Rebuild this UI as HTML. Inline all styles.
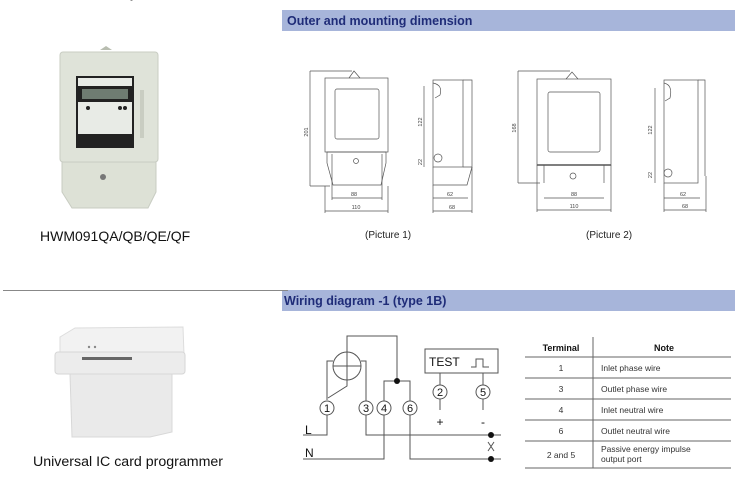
<!DOCTYPE html>
<html><head><meta charset="utf-8"><style>
html,body{margin:0;padding:0;background:#fff;width:737px;height:487px;overflow:hidden}
text{font-family:"Liberation Sans",sans-serif}
</style></head><body>
<svg width="737" height="487" viewBox="0 0 737 487" xmlns="http://www.w3.org/2000/svg">
<rect x="282" y="10" width="453" height="21" fill="#a7b5da"/>
<text x="287" y="25" font-size="12.5" font-weight="bold" fill="#1f2c78">Outer and mounting dimension</text>
<rect x="282" y="290" width="453" height="21" fill="#a7b5da"/>
<text x="284" y="305" font-size="12.5" font-weight="bold" fill="#1f2c78">Wiring diagram -1 (type 1B)</text>
<line x1="3" y1="290.5" x2="288" y2="290.5" stroke="#888" stroke-width="1"/>
<text x="70" y="-2" font-size="13" fill="#222">HWM091QA</text>

<g>
<path d="M100 50 L106 46 L112 50 Z" fill="#b8bdb0"/>
<rect x="60" y="52" width="98" height="110" rx="3" fill="#dfe3d9" stroke="#c8ccc2"/>
<rect x="76" y="76" width="58" height="72" fill="#222"/>
<rect x="78" y="78" width="54" height="8" fill="#e8ebe6"/>
<rect x="82" y="89" width="46" height="10" fill="#6f7c72"/>
<rect x="78" y="102" width="54" height="32" fill="#e8ebe6"/>
<circle cx="88" cy="108" r="2" fill="#222"/><circle cx="120" cy="108" r="2" fill="#222"/><circle cx="125" cy="108" r="2" fill="#222"/>
<path d="M62 162 L156 162 L156 192 L148 208 L72 208 L62 192 Z" fill="#dde1d6" stroke="#c8ccc2"/>
<circle cx="103" cy="177" r="3" fill="#777"/>
<rect x="140" y="90" width="4" height="48" fill="#c9cdc2"/>
</g>
<text x="40" y="241" font-size="14" fill="#111">HWM091QA/QB/QE/QF</text>

<g>
<path d="M60 337 L75 328 L183 327 L184 355 L172 360 L60 360 Z" fill="#f2f2f2" stroke="#ddd"/>
<rect x="55" y="352" width="130" height="22" rx="3" fill="#ececec" stroke="#d6d6d6"/>
<rect x="82" y="357" width="50" height="3" fill="#666"/>
<circle cx="89" cy="347" r="1.2" fill="#888"/><circle cx="95" cy="347" r="1.2" fill="#888"/>
<path d="M70 374 L172 374 L172 432 L150 437 L72 437 Z" fill="#eaeaea" stroke="#d8d8d8"/>
</g>
<text x="33" y="466" font-size="14.2" fill="#111">Universal IC card programmer</text>

<g fill="none" stroke="#555" stroke-width="0.7">
<path d="M349 78 L354 71 L360 78"/>
<rect x="325" y="78" width="63" height="74"/>
<rect x="335" y="89" width="44" height="50" rx="2"/>
<path d="M327 152 L327 163 L333 185 L381 185 L386 163 L386 152 Z"/>
<circle cx="356" cy="161" r="2.5"/>
<line x1="310" y1="71" x2="352" y2="71"/><line x1="310" y1="186" x2="330" y2="186"/>
<line x1="310" y1="71" x2="310" y2="186"/>
<line x1="332" y1="198" x2="382" y2="198"/><line x1="325" y1="211" x2="388" y2="211"/>
<line x1="332" y1="154" x2="332" y2="200"/><line x1="382" y1="154" x2="382" y2="200"/>
<line x1="325" y1="186" x2="325" y2="213"/><line x1="388" y1="186" x2="388" y2="213"/>
<rect x="433" y="80" width="30" height="87"/>
<path d="M463 80 L472 80 L472 167 L463 167"/>
<path d="M433 167 L433 185 L467 185 L472 167"/>
<path d="M433 83 Q443 85 440 95 L435 98"/>
<circle cx="438" cy="158" r="4"/>
<line x1="424" y1="86" x2="424" y2="167"/>
<line x1="433" y1="198" x2="468" y2="198"/><line x1="433" y1="211" x2="472" y2="211"/>
<line x1="433" y1="185" x2="433" y2="213"/><line x1="472" y1="167" x2="472" y2="213"/>
<path d="M566 79 L572 72 L578 79"/>
<rect x="537" y="79" width="74" height="86"/>
<rect x="548" y="92" width="52" height="60" rx="2"/>
<line x1="537" y1="165" x2="611" y2="165" stroke-width="1.5"/>
<line x1="544" y1="165" x2="544" y2="183"/><line x1="604" y1="165" x2="604" y2="183"/>
<circle cx="573" cy="176" r="3"/>
<line x1="518" y1="71" x2="570" y2="71"/><line x1="518" y1="183" x2="540" y2="183"/>
<line x1="518" y1="71" x2="518" y2="183"/>
<line x1="544" y1="198" x2="604" y2="198"/><line x1="537" y1="210" x2="611" y2="210"/>
<line x1="537" y1="165" x2="537" y2="212"/><line x1="611" y1="165" x2="611" y2="212"/>
<rect x="664" y="80" width="34" height="103"/>
<path d="M698 80 L705 80 L705 176"/>
<path d="M664 83 Q673 85 670 98 L665 101"/>
<circle cx="668" cy="173" r="4"/>
<line x1="655" y1="88" x2="655" y2="183"/>
<line x1="664" y1="198" x2="700" y2="198"/><line x1="664" y1="210" x2="706" y2="210"/>
<line x1="664" y1="183" x2="664" y2="212"/><line x1="706" y1="176" x2="706" y2="212"/>
</g>
<g font-size="5.5" fill="#444">
<text x="354" y="196" text-anchor="middle">88</text><text x="356" y="209" text-anchor="middle">110</text>
<text x="450" y="196" text-anchor="middle">62</text><text x="452" y="209" text-anchor="middle">68</text>
<text x="574" y="196" text-anchor="middle">88</text><text x="574" y="208" text-anchor="middle">110</text>
<text x="683" y="196" text-anchor="middle">62</text><text x="685" y="208" text-anchor="middle">68</text>
<text transform="translate(308,132) rotate(-90)" text-anchor="middle">201</text>
<text transform="translate(422,122) rotate(-90)" text-anchor="middle">122</text>
<text transform="translate(422,162) rotate(-90)" text-anchor="middle">22</text>
<text transform="translate(516,128) rotate(-90)" text-anchor="middle">168</text>
<text transform="translate(652,130) rotate(-90)" text-anchor="middle">122</text>
<text transform="translate(652,175) rotate(-90)" text-anchor="middle">22</text>
</g>
<text x="365" y="238" font-size="10" fill="#222">(Picture 1)</text>
<text x="586" y="238" font-size="10" fill="#222">(Picture 2)</text>

<g fill="none" stroke="#555" stroke-width="1">
<circle cx="347" cy="366" r="14"/>
<line x1="333" y1="366" x2="361" y2="366"/><line x1="347" y1="352" x2="347" y2="380"/>
<path d="M347 352 L347 336 L397 336 L397 381"/>
<path d="M333 361 L327 361 L327 400"/>
<path d="M347 380 L347 386 L328 398"/>
<path d="M361 361 L366 361 L366 402"/>
<path d="M384 402 L384 381 L410 381 L410 402"/>
<path d="M327 415 L327 435 L303 435"/>
<path d="M366 415 L366 435 L501 435"/>
<path d="M384 415 L384 459 L303 459"/>
<path d="M410 415 L410 459 L501 459"/>
<rect x="425" y="349" width="73" height="24"/>
<path d="M440 373 L440 386 M440 398 L440 410 M483 373 L483 386 M483 398 L483 410"/>
<path d="M471 367 L476 367 L476 359 L483 359 L483 367 L489 367"/>
<path d="M488 442 L494 451 M494 442 L488 451"/>
</g>
<g fill="#fff" stroke="#555" stroke-width="1">
<circle cx="327" cy="408" r="7"/><circle cx="366" cy="408" r="7"/><circle cx="384" cy="408" r="7"/><circle cx="410" cy="408" r="7"/>
<circle cx="440" cy="392" r="7"/><circle cx="483" cy="392" r="7"/>
</g>
<g fill="#111"><circle cx="397" cy="381" r="3"/><circle cx="491" cy="435" r="3"/><circle cx="491" cy="459" r="3"/></g>
<g font-size="11" fill="#111" text-anchor="middle">
<text x="327" y="412">1</text><text x="366" y="412">3</text><text x="384" y="412">4</text><text x="410" y="412">6</text>
<text x="440" y="396">2</text><text x="483" y="396">5</text>
</g>
<text x="429" y="366" font-size="12" fill="#111">TEST</text>
<text x="440" y="426" font-size="12" fill="#111" text-anchor="middle">+</text>
<text x="483" y="426" font-size="12" fill="#111" text-anchor="middle">-</text>
<text x="305" y="434" font-size="12" fill="#111">L</text>
<text x="305" y="457" font-size="12" fill="#111">N</text>

<g stroke="#666" stroke-width="1">
<line x1="593" y1="337" x2="593" y2="468"/>
<line x1="525" y1="357" x2="731" y2="357"/>
<line x1="525" y1="378" x2="731" y2="378"/>
<line x1="525" y1="399" x2="731" y2="399"/>
<line x1="525" y1="420" x2="731" y2="420"/>
<line x1="525" y1="441" x2="731" y2="441"/>
<line x1="525" y1="468" x2="731" y2="468"/>
</g>
<g font-size="9" fill="#111" text-anchor="middle" font-weight="bold">
<text x="561" y="351">Terminal</text><text x="664" y="351">Note</text>
</g>
<g font-size="8.5" fill="#333">
<text x="561" y="371" text-anchor="middle">1</text><text x="601" y="371">Inlet phase wire</text>
<text x="561" y="392" text-anchor="middle">3</text><text x="601" y="392">Outlet phase wire</text>
<text x="561" y="413" text-anchor="middle">4</text><text x="601" y="413">Inlet neutral wire</text>
<text x="561" y="434" text-anchor="middle">6</text><text x="601" y="434">Outlet neutral wire</text>
<text x="561" y="458" text-anchor="middle">2 and 5</text><text x="601" y="452">Passive energy impulse</text><text x="601" y="462">output port</text>
</g>
</svg>
</body></html>
